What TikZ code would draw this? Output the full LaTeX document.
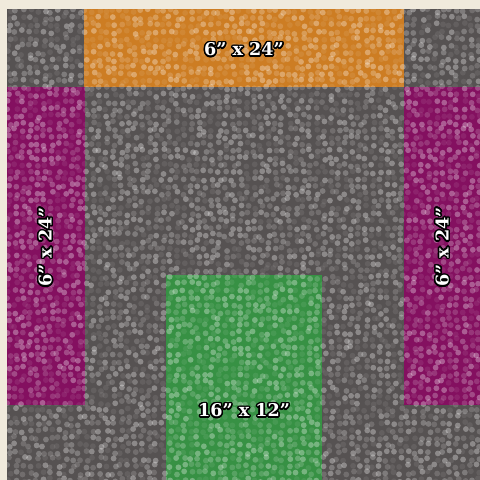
\documentclass[tikz,border=0pt]{standalone}
\usepackage{fontspec}
\newfontfamily\labelfont{DejaVu Serif}
\usepackage{contour}
\contourlength{1.1pt}
\contournumber{16}
\definecolor{floor}{RGB}{240,234,220}
\definecolor{carpet}{RGB}{86,82,82}
\definecolor{pileorange}{RGB}{205,125,35}
\definecolor{pilemagenta}{RGB}{132,16,96}
\definecolor{pilegreen}{RGB}{55,145,68}
\tikzset{
  rug/.style={draw=none},
  sizelbl/.style={font=\labelfont\bfseries\fontsize{12.5}{14}\selectfont,text=white,inner sep=0pt},
  loopdot/.style={fill=white},
}
\begin{document}
\begin{tikzpicture}[x=0.025cm,y=-0.025cm]
  \pgfmathsetseed{42}
  \fill[floor] (0,0) rectangle (480,480);
  % carpet base and the four rugs
  \fill[carpet] (7,9) rectangle (480,480);
  \fill[rug,pileorange] (84,9) rectangle (404,87);
  \fill[rug,pilemagenta] (7,87) rectangle (85,405);
  \fill[rug,pilemagenta] (404,87) rectangle (480,405);
  \fill[rug,pilegreen] (166,275) rectangle (322,480);
  % loop texture
  \begin{scope}
    \clip (7,9) rectangle (480,480);
    \foreach \i in {0,...,67}{
      \foreach \j in {0,...,67}{
        \pgfmathsetmacro\op{0.08+0.08*int(4*rnd)}
        \fill[loopdot,opacity=\op] ({7+7*\i+4*rnd},{9+7*\j+4*rnd}) circle (2.9);
      }
    }
  \end{scope}
  % size labels
  \node[sizelbl] (top) at (244,50) {\contour{black}{6” x 24”}};
  \node[sizelbl,rotate=90] (left) at (46,247) {\contour{black}{6” x 24”}};
  \node[sizelbl,rotate=90] (right) at (443,247) {\contour{black}{6” x 24”}};
  \node[sizelbl] (bottom) at (244,411) {\contour{black}{16” x 12”}};
\end{tikzpicture}
\end{document}
